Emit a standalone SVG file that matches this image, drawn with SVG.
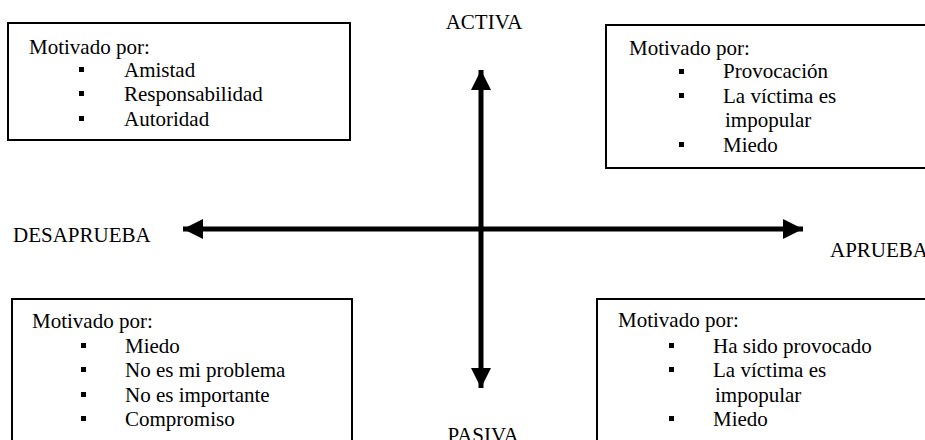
<svg xmlns="http://www.w3.org/2000/svg" width="925" height="440" viewBox="0 0 925 440">
<style>
text { font-family: "Liberation Serif", "Times New Roman", serif; font-size: 21px; fill: #000; }
.box { fill: #fff; stroke: #000; stroke-width: 2; }
.bul { fill: #000; }
.axis { stroke: #000; stroke-width: 5; fill: none; }
</style>
<defs>
<marker id="ah" markerUnits="userSpaceOnUse" markerWidth="22" markerHeight="22" refX="20" refY="10" orient="auto">
<path d="M0,0 L20,10 L0,20 Z" fill="#000"/>
</marker>
</defs>
<g id="connectors">
<line class="axis" x1="481" y1="229" x2="481" y2="70" marker-end="url(#ah)"/>
<line class="axis" x1="481" y1="229" x2="481" y2="388" marker-end="url(#ah)"/>
<line class="axis" x1="481" y1="229" x2="183" y2="229" marker-end="url(#ah)"/>
<line class="axis" x1="481" y1="229" x2="803" y2="229" marker-end="url(#ah)"/>
</g>
<g id="label-activa"><text x="484" y="29" text-anchor="middle" font-size="20">ACTIVA</text></g>
<g id="label-pasiva"><text x="483" y="442" text-anchor="middle" font-size="20">PASIVA</text></g>
<g id="label-desaprueba"><text x="13" y="242">DESAPRUEBA</text></g>
<g id="label-aprueba"><text x="830" y="257">APRUEBA</text></g>
<g id="box-top-left">
<rect class="box" x="8" y="23" width="342" height="117"/>
<text x="29" y="54">Motivado por:</text>
<rect class="bul" x="79" y="67" width="5" height="5"/><text x="124" y="77">Amistad</text>
<rect class="bul" x="79" y="91" width="5" height="5"/><text x="124" y="101">Responsabilidad</text>
<rect class="bul" x="79" y="116" width="5" height="5"/><text x="124" y="126">Autoridad</text>
</g>
<g id="box-top-right">
<rect class="box" x="606" y="25" width="330" height="143"/>
<text x="629" y="55">Motivado por:</text>
<rect class="bul" x="679" y="69" width="5" height="5"/><text x="723" y="78">Provocación</text>
<rect class="bul" x="679" y="93" width="5" height="5"/><text x="723" y="103">La víctima es</text>
<text x="725" y="127">impopular</text>
<rect class="bul" x="679" y="142" width="5" height="5"/><text x="723" y="152">Miedo</text>
</g>
<g id="box-bottom-left">
<rect class="box" x="12" y="299" width="340" height="160"/>
<text x="32" y="328">Motivado por:</text>
<rect class="bul" x="81" y="343" width="5" height="5"/><text x="125" y="353">Miedo</text>
<rect class="bul" x="81" y="367" width="5" height="5"/><text x="125" y="377">No es mi problema</text>
<rect class="bul" x="81" y="392" width="5" height="5"/><text x="125" y="402">No es importante</text>
<rect class="bul" x="81" y="416" width="5" height="5"/><text x="125" y="426">Compromiso</text>
</g>
<g id="box-bottom-right">
<rect class="box" x="597" y="299" width="340" height="160"/>
<text x="618" y="327">Motivado por:</text>
<rect class="bul" x="669" y="343" width="5" height="5"/><text x="713" y="353">Ha sido provocado</text>
<rect class="bul" x="669" y="367" width="5" height="5"/><text x="713" y="377">La víctima es</text>
<text x="715" y="402">impopular</text>
<rect class="bul" x="669" y="416" width="5" height="5"/><text x="713" y="426">Miedo</text>
</g>
</svg>
